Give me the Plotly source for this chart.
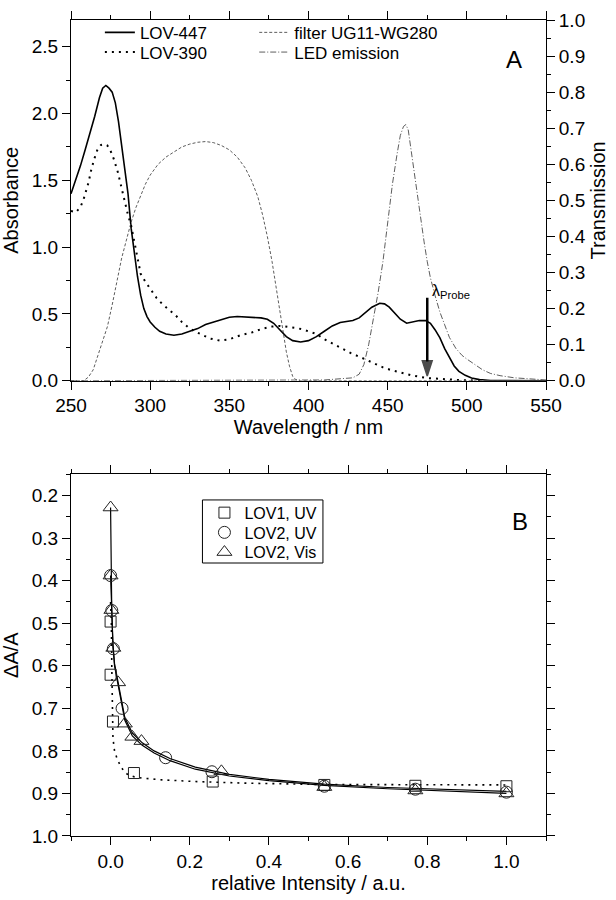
import plotly.graph_objects as go

# ---------------- Panel A data ----------------
lov447_wl = [250, 253, 256, 259, 262, 265, 268, 270, 272, 274, 276, 278, 280, 282, 284, 286, 288, 290,
             292, 294, 296, 298, 300, 303, 306, 310, 315, 320, 325, 330, 335, 340, 345, 350, 355, 360,
             365, 370, 374, 378, 382, 386, 390, 395, 400, 405, 410, 415, 420, 425, 428, 432, 436, 440,
             445, 448, 451, 455, 458, 462, 466, 470, 474, 477, 480, 483, 486, 489, 492, 495, 499, 503,
             508, 515, 525, 550]
lov447_abs = [1.40, 1.50, 1.61, 1.73, 1.85, 1.98, 2.12, 2.19, 2.21, 2.19, 2.16, 2.08, 1.94, 1.76, 1.58,
              1.40, 1.14, 0.95, 0.78, 0.64, 0.54, 0.48, 0.44, 0.40, 0.37, 0.35, 0.34, 0.35, 0.37, 0.39,
              0.42, 0.44, 0.46, 0.475, 0.48, 0.475, 0.47, 0.47, 0.46, 0.43, 0.38, 0.33, 0.30, 0.29, 0.30,
              0.33, 0.37, 0.41, 0.435, 0.445, 0.45, 0.47, 0.51, 0.55, 0.58, 0.575, 0.55, 0.50, 0.46, 0.43,
              0.44, 0.45, 0.45, 0.43, 0.38, 0.32, 0.24, 0.17, 0.11, 0.07, 0.04, 0.02, 0.008, 0.002, 0.0, 0.0]

lov390_wl = [250, 253, 256, 258, 261, 263, 265, 267, 269, 271, 273, 275, 277, 279.6, 282, 284, 286, 288,
             291, 294, 297, 300, 304, 308, 312, 316, 320, 324, 328, 333, 338, 344, 350, 357, 364, 371,
             377, 382, 387, 392, 396, 400, 405, 410, 415, 421, 427, 434, 440, 447, 452, 458, 465, 475,
             485, 495, 510]
lov390_abs = [1.27, 1.26, 1.30, 1.36, 1.48, 1.59, 1.67, 1.74, 1.765, 1.77, 1.76, 1.72, 1.66, 1.56, 1.44,
              1.33, 1.24, 1.16, 0.98, 0.80, 0.74, 0.69, 0.62, 0.57, 0.53, 0.49, 0.44, 0.40, 0.37, 0.34,
              0.315, 0.30, 0.31, 0.34, 0.36, 0.39, 0.405, 0.41, 0.405, 0.395, 0.385, 0.37, 0.35, 0.31,
              0.28, 0.24, 0.205, 0.17, 0.135, 0.10, 0.08, 0.06, 0.04, 0.02, 0.01, 0.005, 0.0]

filter_wl = [250, 258, 261, 264, 267, 270, 273, 276, 279, 282, 285, 288, 291, 294, 297, 300, 305, 310,
             315, 320, 325, 330, 335, 340, 345, 350, 355, 360, 364, 368, 371, 374, 377, 380, 383, 386,
             388, 390, 392, 395, 550]
filter_T = [0.0, 0.0, 0.01, 0.03, 0.07, 0.11, 0.15, 0.21, 0.28, 0.34, 0.39, 0.44, 0.48, 0.515, 0.545,
            0.57, 0.60, 0.62, 0.635, 0.648, 0.656, 0.661, 0.663, 0.66, 0.652, 0.64, 0.62, 0.59, 0.555,
            0.51, 0.46, 0.40, 0.33, 0.25, 0.16, 0.08, 0.04, 0.012, 0.003, 0.0, 0.0]

led_wl = [250, 400, 410, 416, 422, 428, 432, 435, 438, 441, 444, 447, 450, 453, 456, 458, 460, 461.5,
          463, 465, 467, 469, 471, 473, 475, 477, 480, 483, 486, 489, 493, 497, 500, 505, 510, 515,
          521, 530, 540, 550]
led_T = [0.0, 0.0, 0.002, 0.004, 0.006, 0.008, 0.018, 0.045, 0.10, 0.17, 0.245, 0.33, 0.44, 0.545, 0.63,
         0.68, 0.705, 0.71, 0.695, 0.63, 0.58, 0.51, 0.45, 0.385, 0.33, 0.285, 0.235, 0.19, 0.155, 0.12,
         0.09, 0.07, 0.06, 0.045, 0.03, 0.02, 0.014, 0.008, 0.004, 0.002]

probe_wl = [475, 475]
probe_abs = [0.62, 0.035]

# ---------------- Panel B data ----------------
lov1_uv_x = [0.0, 0.0, 0.006, 0.059, 0.258, 0.54, 0.77, 1.0]
lov1_uv_y = [0.496, 0.621, 0.731, 0.852, 0.872, 0.880, 0.882, 0.883]

lov2_uv_x = [0.0, 0.003, 0.007, 0.029, 0.139, 0.256, 0.54, 0.77, 1.0]
lov2_uv_y = [0.388, 0.470, 0.560, 0.700, 0.816, 0.849, 0.883, 0.890, 0.897]

lov2_vis_x = [0.0, 0.0, 0.002, 0.007, 0.019, 0.036, 0.055, 0.078, 0.28, 0.54, 0.77, 1.0]
lov2_vis_y = [0.228, 0.388, 0.469, 0.558, 0.639, 0.736, 0.767, 0.777, 0.848, 0.885, 0.893, 0.900]

fit_lov1_x = [0.0, 0.002, 0.003, 0.004, 0.006, 0.01, 0.017, 0.025, 0.035, 0.046, 0.06, 0.08, 0.13,
              0.214, 0.35, 0.54, 0.77, 1.0]
fit_lov1_y = [0.45, 0.50, 0.60, 0.70, 0.77, 0.80, 0.82, 0.835, 0.85, 0.857, 0.861, 0.864, 0.868,
              0.872, 0.876, 0.879, 0.880, 0.880]

fit_uv_x = [0.0, 0.003, 0.006, 0.01, 0.019, 0.029, 0.036, 0.055, 0.08, 0.11, 0.15, 0.214, 0.3, 0.4,
            0.54, 0.7, 0.85, 1.0]
fit_uv_y = [0.388, 0.47, 0.55, 0.595, 0.64, 0.695, 0.722, 0.758, 0.781, 0.80, 0.818, 0.838, 0.855,
            0.867, 0.878, 0.886, 0.891, 0.895]

fit_vis_x = [0.0, 0.001, 0.003, 0.006, 0.01, 0.019, 0.029, 0.036, 0.055, 0.08, 0.11, 0.15, 0.214, 0.3,
             0.4, 0.54, 0.7, 0.85, 1.0]
fit_vis_y = [0.228, 0.39, 0.47, 0.555, 0.60, 0.645, 0.70, 0.728, 0.765, 0.787, 0.805, 0.823, 0.843,
             0.859, 0.870, 0.881, 0.889, 0.895, 0.900]

FONT = "Liberation Sans, Arial, sans-serif"
H_PLOT = 828.0   # plot height between margins
BOTTOM = 838.0   # pixel row of bottom plot edge


def py(pix):
    """pixel row -> paper y"""
    return (BOTTOM - pix) / H_PLOT


def px(pix):
    """pixel column -> paper x"""
    return (pix - 70) / 477.0


fig = go.Figure()

# Panel A traces
fig.add_trace(go.Scatter(x=lov447_wl, y=lov447_abs, mode="lines", name="LOV-447",
                         line=dict(color="black", width=1.6), xaxis="x", yaxis="y", legend="legend"))
fig.add_trace(go.Scatter(x=lov390_wl, y=lov390_abs, mode="lines", name="LOV-390",
                         line=dict(color="black", width=2, dash="2px,5px"), xaxis="x", yaxis="y",
                         legend="legend2"))
fig.add_trace(go.Scatter(x=filter_wl, y=filter_T, mode="lines", name="filter UG11-WG280",
                         line=dict(color="#333333", width=0.8, dash="3px,2px"), xaxis="x", yaxis="y2",
                         legend="legend3"))
fig.add_trace(go.Scatter(x=led_wl, y=led_T, mode="lines", name="LED emission",
                         line=dict(color="#333333", width=0.8, dash="6px,2px,1px,2px"), xaxis="x",
                         yaxis="y2", legend="legend4"))
# probe arrow
fig.add_trace(go.Scatter(x=probe_wl, y=probe_abs, mode="lines+markers", showlegend=False,
                         line=dict(color="black", width=2.5),
                         marker=dict(symbol=["circle", "arrow"], size=[0, 16], angleref="previous",
                                     color="black", line=dict(width=1.5, color="black")),
                         xaxis="x", yaxis="y", hoverinfo="skip"))

# Panel B traces: fits
fig.add_trace(go.Scatter(x=fit_lov1_x, y=fit_lov1_y, mode="lines", showlegend=False,
                         line=dict(color="black", width=1.6, dash="2px,5px"), xaxis="x2", yaxis="y3"))
fig.add_trace(go.Scatter(x=fit_uv_x, y=fit_uv_y, mode="lines", showlegend=False,
                         line=dict(color="black", width=1.2), xaxis="x2", yaxis="y3"))
fig.add_trace(go.Scatter(x=fit_vis_x, y=fit_vis_y, mode="lines", showlegend=False,
                         line=dict(color="black", width=1.2), xaxis="x2", yaxis="y3"))

# Panel B traces: points
fig.add_trace(go.Scatter(x=lov1_uv_x, y=lov1_uv_y, mode="markers", name="LOV1, UV",
                         marker=dict(symbol="square-open", size=11, color="#222222", line=dict(width=1)),
                         xaxis="x2", yaxis="y3", legend="legend5"))
fig.add_trace(go.Scatter(x=lov2_uv_x, y=lov2_uv_y, mode="markers", name="LOV2, UV",
                         marker=dict(symbol="circle-open", size=12, color="#222222", line=dict(width=1)),
                         xaxis="x2", yaxis="y3", legend="legend6"))
fig.add_trace(go.Scatter(x=lov2_vis_x, y=lov2_vis_y, mode="markers", name="LOV2, Vis",
                         marker=dict(symbol="triangle-up-open", size=13, color="#222222", line=dict(width=1)),
                         xaxis="x2", yaxis="y3", legend="legend7"))

axis_common = dict(showline=True, linecolor="black", linewidth=1, ticks="outside", ticklen=8,
                   tickwidth=1, tickcolor="black", showgrid=False, zeroline=False,
                   tickfont=dict(size=19, color="black", family=FONT),
                   title_font=dict(size=20, color="black", family=FONT))


def leg(xp, yp, size=17):
    return dict(x=px(xp), y=py(yp), xanchor="left", yanchor="middle", bgcolor="rgba(0,0,0,0)",
                borderwidth=0, font=dict(size=size, family=FONT, color="black"), tracegroupgap=0)


fig.update_layout(
    width=616, height=900,
    margin=dict(l=70, r=69, t=10, b=62),
    paper_bgcolor="white", plot_bgcolor="white",
    font=dict(family=FONT, color="black"),
    xaxis=dict(domain=[0, 1], anchor="y", range=[250, 550], dtick=50, tick0=0, mirror="ticks",
               minor=dict(dtick=25, ticks="outside", ticklen=4, tickcolor="black"),
               title=dict(text="Wavelength / nm", standoff=2), **axis_common),
    yaxis=dict(domain=[py(376), 1], anchor="x", range=[0, 2.7], dtick=0.5, tick0=0, tickformat=".1f",
               mirror=True, minor=dict(dtick=0.25, ticks="outside", ticklen=4, tickcolor="black"),
               title=dict(text="Absorbance", standoff=8), **axis_common),
    yaxis2=dict(overlaying="y", anchor="x", side="right", range=[0, 1.0], dtick=0.1, tick0=0,
                tickformat=".1f",
                minor=dict(dtick=0.05, ticks="outside", ticklen=4, tickcolor="black"),
                title=dict(text="Transmission", standoff=6), **axis_common),
    xaxis2=dict(domain=[0, 1], anchor="y3", range=[-0.1, 1.1], dtick=0.2, tick0=0, tickformat=".1f",
                mirror="ticks", minor=dict(dtick=0.1, ticks="outside", ticklen=4, tickcolor="black"),
                title=dict(text="relative Intensity / a.u.", standoff=4), **axis_common),
    yaxis3=dict(domain=[0, py(471)], anchor="x2", range=[1.0, 0.15], dtick=0.1, tick0=0,
                tickformat=".1f", mirror="ticks",
                minor=dict(dtick=0.05, ticks="outside", ticklen=4, tickcolor="black"),
                title=dict(text="ΔA/A", standoff=8), **axis_common),
    legend=leg(99, 23),
    legend2=leg(99, 43),
    legend3=leg(254, 23),
    legend4=leg(254, 43),
    legend5=leg(204, 510, 16),
    legend6=leg(204, 530, 16),
    legend7=leg(204, 550, 16),
    shapes=[dict(type="rect", xref="paper", yref="paper", x0=px(202), x1=px(323), y0=py(561), y1=py(497),
                 line=dict(color="black", width=1), fillcolor="white", layer="below")],
    annotations=[
        dict(text="A", x=px(515), y=py(50), xref="paper", yref="paper", xanchor="center",
             yanchor="middle", showarrow=False, font=dict(size=24, family=FONT, color="black")),
        dict(text="B", x=px(521), y=py(519), xref="paper", yref="paper", xanchor="center",
             yanchor="middle", showarrow=False, font=dict(size=24, family=FONT, color="black")),
        dict(text="λ<sub>Probe</sub>", x=477, y=0.67, xref="x", yref="y", xanchor="left",
             yanchor="middle", showarrow=False, font=dict(size=16, family=FONT, color="black")),
    ],
)

fig.write_html("out.html", config={"displayModeBar": False},
               post_script="document.body.style.margin='0';document.body.style.overflow='hidden';")
